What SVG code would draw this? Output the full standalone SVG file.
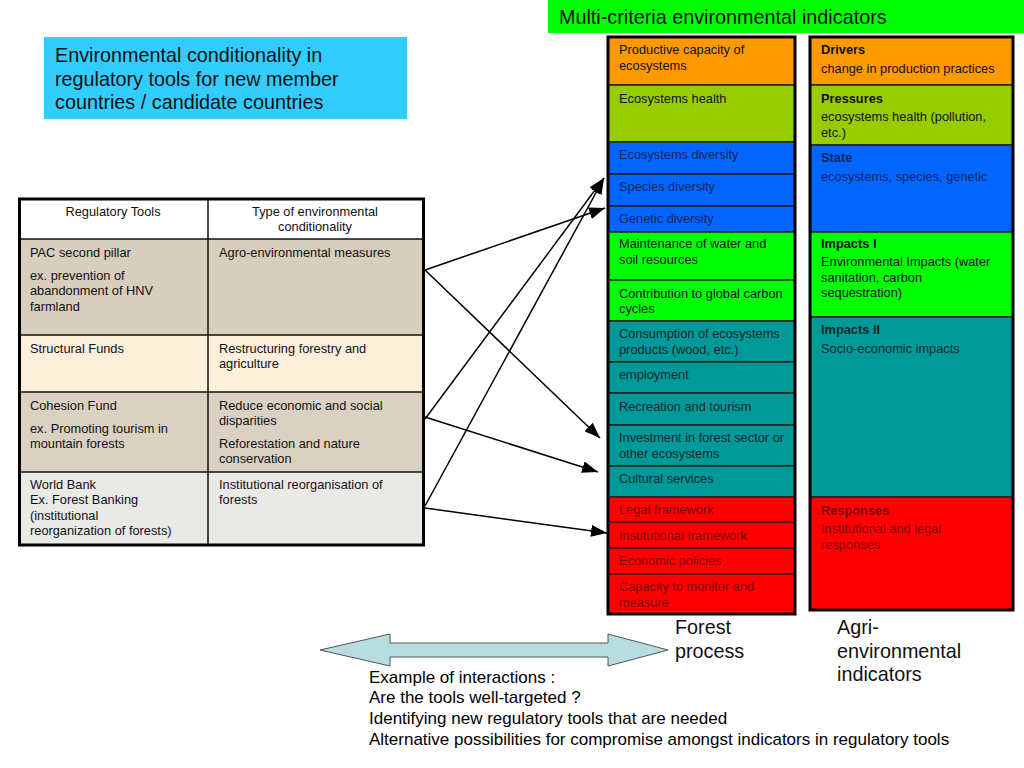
<svg xmlns="http://www.w3.org/2000/svg" width="1024" height="768" viewBox="0 0 1024 768">
<defs>
<style>
text{font-family:"Liberation Sans",Arial,sans-serif;}
.t12{font-size:12.8px;fill:#111;}
.b12{font-size:12.8px;font-weight:bold;fill:#111;}
.t18{font-size:19.8px;fill:#111;}
.t16{font-size:17px;fill:#000;}
.row{stroke:#222;stroke-width:1.5;}
.cell{stroke:#111;stroke-width:1.5;}
.conn{stroke:#000;stroke-width:1.5;fill:none;marker-end:url(#ah);}
.nv{fill:#15245e;}
.dr{fill:#7a0000;}
.dt{fill:#0a2a2a;}
</style>
<marker id="ah" viewBox="0 0 10 10" refX="10" refY="5" markerWidth="16" markerHeight="12" markerUnits="userSpaceOnUse" orient="auto" preserveAspectRatio="none">
<path d="M0,0 L10,5 L0,10 Z" fill="#000"/>
</marker>
</defs>
<rect width="1024" height="768" fill="#fff"/>

<g id="banner">
<rect x="548" y="0" width="476" height="33" fill="#00ff00"/>
<text class="t18" x="559" y="24">Multi-criteria environmental indicators</text>
</g>

<g id="title-box">
<rect x="44" y="37" width="363" height="82" fill="#33ccff"/>
<text class="t18" x="55" y="62">Environmental conditionality in</text>
<text class="t18" x="55" y="86">regulatory tools for new member</text>
<text class="t18" x="55" y="109">countries / candidate countries</text>
</g>

<g id="table">
<rect x="18" y="198" width="407" height="41" fill="#fff"/>
<rect x="18" y="239" width="407" height="96" fill="#d8cebe"/>
<rect x="18" y="335" width="407" height="57" fill="#fcf0db"/>
<rect x="18" y="392" width="407" height="80" fill="#dbd1c2"/>
<rect x="18" y="472" width="407" height="73" fill="#e9e9e6"/>
<line class="cell" x1="18" y1="239" x2="425" y2="239"/>
<line class="cell" x1="18" y1="335" x2="425" y2="335"/>
<line class="cell" x1="18" y1="392" x2="425" y2="392"/>
<line class="cell" x1="18" y1="472" x2="425" y2="472"/>
<line class="cell" x1="208" y1="198" x2="208" y2="545"/>
<rect x="19.5" y="199" width="404" height="346" fill="none" stroke="#000" stroke-width="3"/>
<text class="t12" x="113" y="216" text-anchor="middle">Regulatory Tools</text>
<text class="t12" x="315" y="216" text-anchor="middle">Type of environmental</text>
<text class="t12" x="315" y="231" text-anchor="middle">conditionality</text>
<text class="t12" x="30" y="257">PAC second pillar</text>
<text class="t12" x="30" y="280">ex. prevention of</text>
<text class="t12" x="30" y="295">abandonment of HNV</text>
<text class="t12" x="30" y="311">farmland</text>
<text class="t12" x="219" y="257">Agro-environmental measures</text>
<text class="t12" x="30" y="353">Structural Funds</text>
<text class="t12" x="219" y="353">Restructuring forestry and</text>
<text class="t12" x="219" y="368">agriculture</text>
<text class="t12" x="30" y="410">Cohesion Fund</text>
<text class="t12" x="30" y="433">ex. Promoting tourism in</text>
<text class="t12" x="30" y="448">mountain forests</text>
<text class="t12" x="219" y="410">Reduce economic and social</text>
<text class="t12" x="219" y="425">disparities</text>
<text class="t12" x="219" y="448">Reforestation and nature</text>
<text class="t12" x="219" y="463">conservation</text>
<text class="t12" x="30" y="489">World Bank</text>
<text class="t12" x="30" y="504">Ex. Forest Banking</text>
<text class="t12" x="30" y="520">(institutional</text>
<text class="t12" x="30" y="535">reorganization of forests)</text>
<text class="t12" x="219" y="489">Institutional reorganisation of</text>
<text class="t12" x="219" y="504">forests</text>
</g>

<g id="forest-indicators">
<rect class="row" x="608" y="37" width="187" height="48" fill="#ff9900"/>
<rect class="row" x="608" y="85" width="187" height="57" fill="#99cc00"/>
<rect class="row" x="608" y="142" width="187" height="32" fill="#0066ff"/>
<rect class="row" x="608" y="174" width="187" height="32" fill="#0066ff"/>
<rect class="row" x="608" y="206" width="187" height="26" fill="#0066ff"/>
<rect class="row" x="608" y="232" width="187" height="48" fill="#00ff00"/>
<rect class="row" x="608" y="280" width="187" height="41" fill="#00ff00"/>
<rect class="row" x="608" y="321" width="187" height="41" fill="#009999"/>
<rect class="row" x="608" y="362" width="187" height="31" fill="#009999"/>
<rect class="row" x="608" y="393" width="187" height="32" fill="#009999"/>
<rect class="row" x="608" y="425" width="187" height="41" fill="#009999"/>
<rect class="row" x="608" y="466" width="187" height="31" fill="#009999"/>
<rect class="row" x="608" y="497" width="187" height="25" fill="#ff0000"/>
<rect class="row" x="608" y="522" width="187" height="26" fill="#ff0000"/>
<rect class="row" x="608" y="548" width="187" height="26" fill="#ff0000"/>
<rect class="row" x="608" y="574" width="187" height="40" fill="#ff0000"/>
<rect x="608" y="37" width="187" height="577" fill="none" stroke="#000" stroke-width="3"/>
<text class="t12" x="619" y="54">Productive capacity of</text>
<text class="t12" x="619" y="70">ecosystems</text>
<text class="t12" x="619" y="103">Ecosystems health</text>
<text class="t12 nv" x="619" y="159">Ecosystems diversity</text>
<text class="t12 nv" x="619" y="191">Species diversity</text>
<text class="t12 nv" x="619" y="223">Genetic diversity</text>
<text class="t12" x="619" y="248">Maintenance of water and</text>
<text class="t12" x="619" y="264">soil resources</text>
<text class="t12" x="619" y="298">Contribution to global carbon</text>
<text class="t12" x="619" y="313">cycles</text>
<text class="t12 dt" x="619" y="338">Consumption of ecosystems</text>
<text class="t12 dt" x="619" y="354">products (wood, etc.)</text>
<text class="t12 dt" x="619" y="379">employment</text>
<text class="t12 dt" x="619" y="411">Recreation and tourism</text>
<text class="t12 dt" x="619" y="442">Investment in forest sector or</text>
<text class="t12 dt" x="619" y="458">other ecosystems</text>
<text class="t12 dt" x="619" y="483">Cultural services</text>
<text class="t12 dr" x="619" y="514">Legal framework</text>
<text class="t12 dr" x="619" y="540">Institutional framework</text>
<text class="t12 dr" x="619" y="565">Economic policies</text>
<text class="t12 dr" x="619" y="591">Capacity to monitor and</text>
<text class="t12 dr" x="619" y="607">measure</text>
</g>

<g id="agri-indicators">
<rect class="row" x="810" y="37" width="203" height="48" fill="#ff9900"/>
<rect class="row" x="810" y="85" width="203" height="60" fill="#99cc00"/>
<rect class="row" x="810" y="145" width="203" height="87" fill="#0066ff"/>
<rect class="row" x="810" y="232" width="203" height="85" fill="#00ff00"/>
<rect class="row" x="810" y="317" width="203" height="180" fill="#009999"/>
<rect class="row" x="810" y="497" width="203" height="113" fill="#ff0000"/>
<rect x="810" y="37" width="203" height="573" fill="none" stroke="#000" stroke-width="3"/>
<text class="b12" x="821" y="54">Drivers</text>
<text class="t12" x="821" y="73">change in production practices</text>
<text class="b12" x="821" y="103">Pressures</text>
<text class="t12" x="821" y="121">ecosystems health (pollution,</text>
<text class="t12" x="821" y="137">etc.)</text>
<text class="b12 nv" x="821" y="162">State</text>
<text class="t12 nv" x="821" y="181">ecosystems, species, genetic</text>
<text class="b12" x="821" y="248">Impacts I</text>
<text class="t12" x="821" y="266">Environmental Impacts (water</text>
<text class="t12" x="821" y="282">sanitation, carbon</text>
<text class="t12" x="821" y="297">sequestration)</text>
<text class="b12 dt" x="821" y="334">Impacts II</text>
<text class="t12 dt" x="821" y="353">Socio-economic impacts</text>
<text class="b12 dr" x="821" y="515">Responses</text>
<text class="t12 dr" x="821" y="533">Institutional and legal</text>
<text class="t12 dr" x="821" y="549">responses</text>
</g>

<g id="connectors">
<line class="conn" x1="425" y1="270" x2="605" y2="208"/>
<line class="conn" x1="425" y1="270" x2="600" y2="438"/>
<line class="conn" x1="425" y1="419" x2="604" y2="178"/>
<line class="conn" x1="425" y1="417" x2="598" y2="472"/>
<line class="conn" x1="425" y1="506" x2="604" y2="178"/>
<line class="conn" x1="425" y1="508" x2="607" y2="533"/>
</g>

<g id="interaction-arrow">
<path d="M320,650 L390,634 L390,643 L608,643 L608,634 L668,650 L608,666 L608,657 L390,657 L390,666 Z" fill="#b7dde0" stroke="#555" stroke-width="1"/>
</g>

<g id="labels">
<text class="t18" x="675" y="634">Forest</text>
<text class="t18" x="675" y="658">process</text>
<text class="t18" x="837" y="634">Agri-</text>
<text class="t18" x="837" y="658">environmental</text>
<text class="t18" x="837" y="681">indicators</text>
</g>

<g id="notes">
<text class="t16" x="369" y="683">Example of interactions :</text>
<text class="t16" x="369" y="703">Are the tools well-targeted ?</text>
<text class="t16" x="369" y="724">Identifying new regulatory tools that are needed</text>
<text class="t16" x="369" y="745">Alternative possibilities for compromise amongst indicators in regulatory tools</text>
</g>
</svg>
